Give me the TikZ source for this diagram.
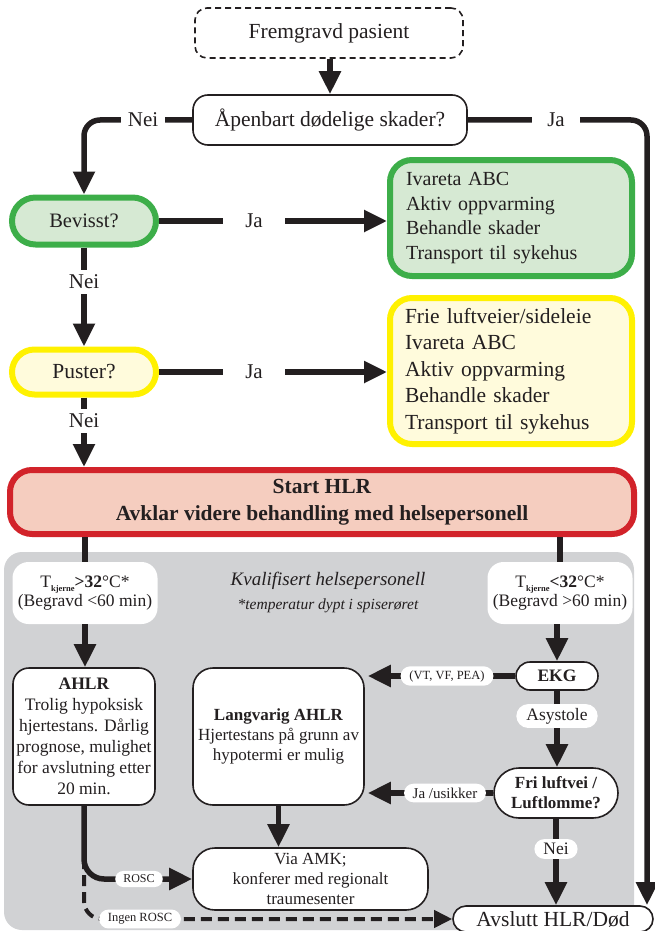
\documentclass[tikz,border=0pt]{standalone}
\usepackage{fontspec}
\setmainfont{Liberation Serif}
\usetikzlibrary{arrows.meta,shapes.misc}
\definecolor{ink}{HTML}{231F20}
\definecolor{gbd}{HTML}{3DAE49}
\definecolor{gfl}{HTML}{D6E9D3}
\definecolor{ybd}{HTML}{FFF100}
\definecolor{yfl}{HTML}{FFFBDC}
\definecolor{rbd}{HTML}{D2232A}
\definecolor{rfl}{HTML}{F5CDBF}
\definecolor{gry}{HTML}{D1D2D4}
\newcommand\myfs[2]{\fontsize{#1}{#2}\selectfont}
\tikzset{
 base/.style={inner sep=0pt, align=center, text=ink},
 wbox/.style={base, draw=ink, line width=1.6pt, fill=white, rounded corners=16pt},
 pillbox/.style={base, rounded rectangle, draw=ink, line width=1.6pt, fill=white},
 conn/.style={draw=ink, line width=5.5pt},
 arr/.style={conn, -{Triangle[length=23pt,width=21pt]}},
 darr/.style={draw=ink, line width=4pt, dash pattern=on 11pt off 6pt, -{Triangle[length=18pt,width=17pt]}},
 lbl/.style={base, fill=white, inner xsep=7pt, inner ysep=5pt, font=\myfs{21}{24}},
 tag/.style={base, rounded rectangle, fill=white, inner xsep=7pt, inner ysep=4pt},
}
\begin{document}
\begin{tikzpicture}[x=1pt,y=-1pt]
\useasboundingbox (0,0) rectangle (655,931);
% grey region
\fill[gry, rounded corners=18pt] (4,552) rectangle (634,930);

% top nodes
\node[base, draw=ink, line width=1.6pt, dash pattern=on 6pt off 4pt, rounded corners=12pt,
      minimum width=268pt, minimum height=50pt, font=\myfs{21.5}{25}] (F) at (329,33) {Fremgravd pasient};
\node[wbox, rounded corners=15pt, minimum width=274pt, minimum height=50pt, font=\myfs{21.5}{25}] (A) at (330,120) {Åpenbart dødelige skader?};

\node[base, rounded rectangle, draw=gbd, fill=gfl, line width=6pt, minimum width=144pt, minimum height=47pt,
      font=\myfs{20.5}{24}] (B) at (84,221) {Bevisst?};
\node[base, draw=gbd, fill=gfl, line width=6pt, rounded corners=22pt, minimum width=242pt, minimum height=116pt,
      text width=210pt, align=left, font=\myfs{20}{24.5}] (G) at (511,218)
      {Ivareta ABC\\Aktiv oppvarming\\Behandle skader\\Transport til sykehus};

\node[base, rounded rectangle, draw=ybd, fill=yfl, line width=6pt, minimum width=144pt, minimum height=45pt,
      font=\myfs{21.5}{25}] (P) at (84,372) {Puster?};
\node[base, draw=ybd, fill=yfl, line width=6pt, rounded corners=22pt, minimum width=242pt, minimum height=146pt,
      text width=212pt, align=left, font=\myfs{21.5}{26.5}] (Y) at (511,371)
      {Frie luftveier/sideleie\\Ivareta ABC\\Aktiv oppvarming\\Behandle skader\\Transport til sykehus};

\node[base, draw=rbd, fill=rfl, line width=6pt, rounded corners=22pt, minimum width=624pt, minimum height=64pt,
      font=\bfseries\myfs{21.5}{27}] (S) at (322,502)
      {Start HLR\\Avklar videre behandling med helsepersonell};

% grey area nodes
\node[base, fill=white, rounded corners=16pt, minimum width=145pt, minimum height=62pt, font=\myfs{17.5}{19}] (TL) at (85,593)
  {T\raisebox{-0.45ex}{\myfs{8.5}{9}\bfseries kjerne}\textbf{>32}°C*\\(Begravd <60 min)};
\node[base, fill=white, rounded corners=16pt, minimum width=145pt, minimum height=62pt, font=\myfs{17.5}{19}] (TR) at (560,593)
  {T\raisebox{-0.45ex}{\myfs{8.5}{9}\bfseries kjerne}\textbf{<32}°C*\\(Begravd >60 min)};
\node[base, font=\itshape\myfs{19}{22}] (K1) at (328,581) {Kvalifisert helsepersonell};
\node[base, font=\itshape\myfs{15.5}{18}] (K2) at (328,606) {*temperatur dypt i spiserøret};

\node[wbox, minimum width=142pt, minimum height=137pt, font=\myfs{17.5}{21}] (AH) at (84,736.5)
  {\textbf{AHLR}\\Trolig hypoksisk\\hjertestans. Dårlig\\prognose, mulighet\\for avslutning etter\\20 min.};
\node[wbox, rounded corners=20pt, minimum width=171pt, minimum height=137pt, font=\myfs{17}{20}] (L) at (278.5,736.5)
  {\textbf{Langvarig AHLR}\\Hjertestans på grunn av\\hypotermi er mulig};
\node[wbox, rounded corners=22pt, minimum width=235pt, minimum height=62pt, font=\myfs{17}{20}] (V) at (310.5,879)
  {Via AMK;\\konferer med regionalt\\traumesenter};

\node[pillbox, minimum width=82pt, minimum height=28pt, font=\bfseries\myfs{17.5}{20}] (E) at (557,676) {EKG};
\node[pillbox, minimum width=124pt, minimum height=50pt, font=\bfseries\myfs{17}{20}] (FL) at (556,793) {Fri luftvei /\\Luftlomme?};
\node[pillbox, minimum width=200pt, minimum height=26pt, font=\myfs{21.5}{24}] (D) at (553,919) {Avslutt HLR/Død};

% connectors top
\coordinate (nl) at (84,120);
\coordinate (jr) at (647,120);
\draw[arr] (F.south -| A.north) -- (A.north);
\draw[arr, rounded corners=16pt] (A.west) -- (nl) -- (B.north);
\draw[arr, rounded corners=16pt] (A.east) -- (jr) -- (jr |- D.north);
\draw[arr] (B.east) -- (B.east -| G.west);
\draw[arr] (B.south) -- (P.north);
\draw[arr] (P.east) -- (P.east -| Y.west);
\draw[arr] (P.south) -- (P.south |- S.north);
\node[lbl] (l1) at (143,120) {Nei};
\node[lbl, inner xsep=15pt] (l2) at (556,120) {Ja};
\node[lbl, inner xsep=22pt] (l3) at (254,221) {Ja};
\node[lbl] (l4) at (84,282) {Nei};
\node[lbl, inner xsep=22pt] (l5) at (254,372) {Ja};
\node[lbl] (l6) at (84,421) {Nei};

% connectors grey region
\draw[conn] (S.south -| TL.north) -- (TL.north);
\draw[conn] (S.south -| TR.north) -- (TR.north);
\draw[arr] (TL.south) -- (TL.south |- AH.north);
\draw[arr] (TR.south -| E.north) -- (E.north);
\draw[arr, shorten >=3pt] (E.west) -- (E.west -| L.east);
\draw[arr] (E.south) -- (E.south |- FL.north);
\draw[arr, shorten >=3pt] (FL.west) -- (FL.west -| L.east);
\draw[arr] (FL.south) -- (FL.south |- D.north);
\draw[arr] (L.south) -- (L.south |- V.north);
\coordinate (ds) at (84,858);
\draw[darr, rounded corners=18pt] (ds) -- (ds |- D.west) -- (D.west);
\draw[arr, rounded corners=20pt] (AH.south) -- (AH.south |- V.west) -- (V.west);

\node[tag, font=\myfs{12.5}{14}] (t1) at (447,676) {(VT, VF, PEA)};
\node[tag, font=\myfs{17.5}{20}] (t2) at (557,716) {Asystole};
\node[tag, font=\myfs{15}{17}] (t3) at (445,793) {Ja /usikker};
\node[tag, font=\myfs{17.5}{20}] (t4) at (556,849) {Nei};
\node[tag, font=\myfs{12}{14}] (t5) at (139,879) {ROSC};
\node[tag, font=\myfs{12.5}{14}] (t6) at (140,919) {Ingen ROSC};
\end{tikzpicture}
\end{document}
